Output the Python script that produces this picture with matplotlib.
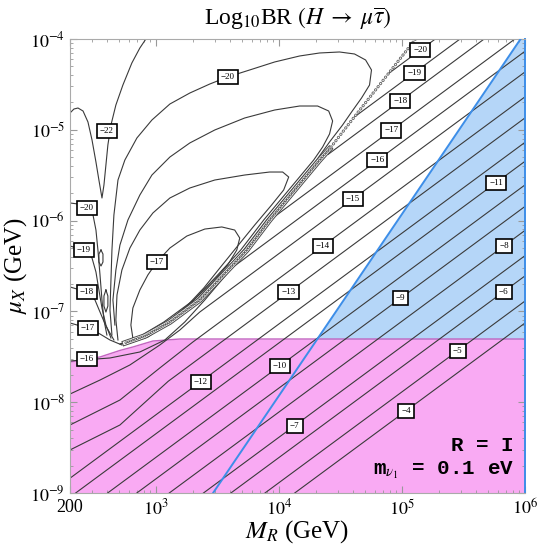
import numpy as np
import matplotlib.pyplot as plt

plt.rcParams['font.family'] = ['Liberation Serif', 'DejaVu Serif']
plt.rcParams['mathtext.fontset'] = 'stix'
plt.rcParams['lines.scale_dashes'] = False

# all positions below are (log10 M_R [GeV], log10 mu_X [GeV])

# straight contours in the lower right
straight_levels = [-4, -5, -6, -7, -8, -9, -10, -11, -12]
straight_start = [(4.128, -9), (3.886, -9), (3.609, -9), (3.386, -9), (3.108, -9),
                  (2.844, -9), (2.607, -9), (2.347, -9), (2.301, -8.837)]
straight_end = [(6, -7.128), (6, -6.886), (6, -6.609), (6, -6.386), (6, -6.108),
                (6, -5.844), (6, -5.607), (6, -5.347), (6, -5.138)]

# diagonals that bend at small M_R
line_m13 = [(6, -4.869), (3.1, -7.769), (2.707, -8.251), (2.301, -8.526)]
line_m14 = [(6, -4.637), (3.3, -7.337), (3.031, -7.623), (2.707, -7.976), (2.301, -8.251)]
line_m15 = [(6, -4.363), (3.356, -7.007), (3.194, -7.205), (3.031, -7.370), (2.788, -7.590),
            (2.545, -7.756), (2.301, -7.910)]
line_m16 = [(6, -4.135), (3.616, -6.522), (3.397, -6.874), (3.234, -7.117), (3.072, -7.315),
            (2.869, -7.447), (2.626, -7.513), (2.301, -7.546)]

# diagonals that run into the cancellation band
line_m17 = [(5.918, -4.0), (3.92, -6.0)]
line_m18 = [(5.668, -4.0), (4.40, -5.27)]
line_m19 = [(5.472, -4.0), (4.616, -4.856)]
line_m20 = [(5.271, -4.0), (4.891, -4.380)]

# cancellation band: sparse above, dense below
band_upper = [(5.110, -4.0), (5.085, -4.044), (4.574, -4.925), (4.411, -5.211)]
band_lower = [(4.411, -5.211), (4.330, -5.333), (4.127, -5.663), (3.924, -5.993), (3.738, -6.324),
              (3.356, -6.874), (3.113, -7.117), (2.910, -7.271), (2.747, -7.348)]

# closed loops left of the band
loop_m17 = [(2.812, -7.293), (2.796, -7.150), (2.812, -6.963), (2.869, -6.764), (2.934, -6.599),
            (3.007, -6.456), (3.113, -6.302), (3.251, -6.170), (3.397, -6.093), (3.535, -6.070),
            (3.640, -6.104), (3.681, -6.192), (3.657, -6.324), (3.583, -6.489), (3.454, -6.687),
            (3.291, -6.896), (3.113, -7.095), (2.950, -7.238), (2.853, -7.304), (2.812, -7.293)]
loop_m18 = [(2.691, -7.315), (2.674, -7.095), (2.683, -6.819), (2.723, -6.544), (2.788, -6.302),
            (2.869, -6.104), (2.975, -5.916), (3.113, -5.751), (3.275, -5.641), (3.478, -5.553),
            (3.721, -5.498), (3.924, -5.465), (4.030, -5.465), (4.079, -5.520), (4.038, -5.663),
            (3.940, -5.828), (3.803, -6.048), (3.657, -6.291), (3.519, -6.522), (3.389, -6.742),
            (3.251, -6.941), (3.097, -7.128), (2.934, -7.282), (2.788, -7.348)]
loop_m19 = [(2.666, -7.150), (2.650, -6.874), (2.674, -6.544), (2.707, -6.269), (2.772, -5.993),
            (2.869, -5.718), (2.967, -5.498), (3.113, -5.300), (3.275, -5.145), (3.478, -5.002),
            (3.721, -4.870), (3.965, -4.782), (4.168, -4.738), (4.314, -4.738), (4.404, -4.793),
            (4.436, -4.903), (4.411, -5.046), (4.355, -5.189), (4.282, -5.333), (4.079, -5.663),
            (3.876, -5.993), (3.689, -6.324), (3.494, -6.610), (3.308, -6.874), (3.064, -7.117),
            (2.861, -7.282), (2.707, -7.359)]
loop_m20 = [(2.642, -7.260), (2.626, -6.985), (2.634, -6.654), (2.642, -6.324), (2.658, -5.938),
            (2.691, -5.553), (2.747, -5.333), (2.845, -5.090), (2.967, -4.892), (3.113, -4.716),
            (3.275, -4.595), (3.437, -4.496), (3.583, -4.418), (3.762, -4.341), (3.965, -4.253),
            (4.168, -4.187), (4.330, -4.154), (4.492, -4.143), (4.614, -4.165), (4.704, -4.231),
            (4.752, -4.341), (4.736, -4.507), (4.671, -4.650), (4.590, -4.804), (4.517, -4.947),
            (4.411, -5.134), (4.306, -5.333), (4.103, -5.663), (3.900, -5.993), (3.713, -6.324),
            (3.519, -6.610), (3.332, -6.874), (3.088, -7.117), (2.885, -7.282), (2.715, -7.359)]

# arms reaching the left edge
arm_m17 = [(2.301, -7.128), (2.447, -7.183), (2.545, -7.249), (2.626, -7.315), (2.723, -7.370)]
arm_m18 = [(2.301, -6.731), (2.439, -6.786), (2.504, -6.874), (2.545, -7.007), (2.593, -7.161),
           (2.658, -7.315)]
arm_m19 = [(2.301, -6.280), (2.415, -6.324), (2.480, -6.412), (2.512, -6.566), (2.536, -6.764),
           (2.561, -6.963), (2.593, -7.150), (2.634, -7.293)]
arm_m20 = [(2.301, -5.806), (2.366, -5.817), (2.431, -5.861), (2.488, -5.938), (2.512, -6.104),
           (2.528, -6.324), (2.545, -6.599), (2.561, -6.874), (2.577, -7.095), (2.601, -7.260)]
line_m22 = [(2.301, -4.815), (2.333, -4.771), (2.366, -4.760), (2.407, -4.793), (2.447, -4.914),
            (2.480, -5.112), (2.512, -5.355), (2.536, -5.553), (2.561, -5.751), (2.577, -5.608),
            (2.593, -5.388), (2.609, -5.167), (2.634, -4.947), (2.674, -4.727), (2.731, -4.507),
            (2.804, -4.264), (2.869, -4.099), (2.918, -4.0)]
# tiny closed contours inside the vertical valley
islet_a = [(2.553, -6.324), (2.569, -6.368), (2.569, -6.456), (2.553, -6.500), (2.536, -6.456),
           (2.536, -6.368), (2.553, -6.324)]
islet_b = [(2.593, -6.764), (2.609, -6.830), (2.609, -6.941), (2.593, -7.007), (2.577, -6.941),
           (2.577, -6.830), (2.593, -6.764)]

contour_lines = [line_m13, line_m14, line_m15, line_m16, line_m17, line_m18, line_m19, line_m20,
                 loop_m17, loop_m18, loop_m19, loop_m20, arm_m17, arm_m18, arm_m19, arm_m20,
                 line_m22, islet_a, islet_b]

# contour labels
label_levels = [-20, -19, -18, -17, -16, -15, -14, -13, -12, -11, -10, -9, -8, -7, -6, -5, -4,
                -20, -22, -17, -20, -19, -18, -17, -16]
label_pos = [(5.148, -4.124), (5.101, -4.371), (4.985, -4.683), (4.912, -5.006), (4.799, -5.336),
             (4.601, -5.762), (4.357, -6.280), (4.079, -6.790), (3.364, -7.774), (5.764, -5.583),
             (4.006, -7.601), (4.988, -6.856), (5.832, -6.276), (4.127, -8.259), (5.826, -6.783),
             (5.453, -7.433), (5.034, -8.094), (3.583, -4.418), (2.601, -5.013), (3.007, -6.456),
             (2.439, -5.861), (2.415, -6.324), (2.439, -6.786), (2.447, -7.183), (2.439, -7.524)]

# excluded regions
blue_line = [(3.464, -9.0), (5.964, -4.0)]
magenta_edge = [(2.301, -7.557), (2.545, -7.502), (2.707, -7.43), (2.812, -7.392),
                (2.975, -7.326), (3.194, -7.304), (6.0, -7.304)]

line_col = '#3a3a3a'
blue_fill = '#b5d6f8'
blue_edge = '#3d8ee8'
mag_fill = '#f9aaf3'
mag_edge = '#c264c0'


def to_data(pts):
    arr = np.asarray(pts, dtype=float)
    return 10 ** arr[:, 0], 10 ** arr[:, 1]


fig = plt.figure(figsize=(5.4, 5.51), dpi=100)
ax = fig.add_axes([70 / 540, 1 - 493 / 551, 455 / 540, 454 / 551])
ax.set_xscale('log')
ax.set_yscale('log')

# blue region right of the blue line
bx, by = to_data(blue_line)
ax.fill([bx[0], bx[1], 1e6, 1e6], [by[0], by[1], 1e-4, 1e-9], color=blue_fill, lw=0, zorder=1)

# magenta region below the edge
mx, my = to_data(magenta_edge)
ax.fill_between(mx, 1e-9, my, color=mag_fill, lw=0, zorder=1.5)
ax.plot(mx, my, color=mag_edge, lw=1.0, zorder=1.6)

for s, e in zip(straight_start, straight_end):
    x, y = to_data([s, e])
    ax.plot(x, y, color=line_col, lw=0.8, zorder=2)

for pts in contour_lines:
    x, y = to_data(pts)
    ax.plot(x, y, color=line_col, lw=0.8, zorder=2, solid_joinstyle='round')

# band of tiny contours along the cancellation line
x, y = to_data(band_lower)
ax.plot(x, y, color='#4a4a4a', lw=4.0, zorder=2.1)
ax.plot(x, y, color='white', lw=2.6, zorder=2.2)
ax.plot(x, y, color='#555555', lw=1.8, ls=(0, (0.3, 1.5)), dash_capstyle='round', zorder=2.3)
ax.plot(x, y, color='white', lw=0.7, ls=(0, (0.3, 1.5)), dash_capstyle='round', zorder=2.4)
x, y = to_data(band_upper)
ax.plot(x, y, color='#666666', lw=2.2, ls=(0, (0.3, 2.6)), dash_capstyle='round', zorder=2.3)
ax.plot(x, y, color='white', lw=0.9, ls=(0, (0.3, 2.6)), dash_capstyle='round', zorder=2.4)

ax.plot(bx, by, color=blue_edge, lw=1.4, zorder=3)

for lev, p in zip(label_levels, label_pos):
    ax.text(10 ** p[0], 10 ** p[1], '\u2212%d' % abs(lev), fontsize=6.5, ha='center', va='center',
            zorder=5, bbox=dict(boxstyle='square,pad=0.35', fc='white', ec='black', lw=1.2))

ax.set_xlim(200, 1e6)
ax.set_ylim(1e-9, 1e-4)
ax.set_xticks([200, 1e3, 1e4, 1e5, 1e6])
ax.set_xticklabels(['200', '$10^{3}$', '$10^{4}$', '$10^{5}$', '$10^{6}$'])
ax.set_yticks([1e-9, 1e-8, 1e-7, 1e-6, 1e-5, 1e-4])
ax.set_yticklabels(['$10^{-9}$', '$10^{-8}$', '$10^{-7}$', '$10^{-6}$', '$10^{-5}$', '$10^{-4}$'])
ax.tick_params(which='both', direction='in', top=True, right=True, color='#999999', labelsize=13)
ax.tick_params(which='major', length=5, width=0.8)
ax.tick_params(which='minor', length=2.5, width=0.6)
ax.tick_params(axis='x', pad=4)
for sp in ax.spines.values():
    sp.set_color('#aaaaaa')
    sp.set_linewidth(0.8)
ax.spines['right'].set_color(blue_edge)
ax.spines['right'].set_linewidth(1.4)

ax.set_title(r'Log$_{10}$BR $(H\;\rightarrow\;\mu\overline{\tau})$', fontsize=17, pad=11)
ax.set_xlabel(r'$M_R$ (GeV)', fontsize=18, labelpad=0)
ax.set_ylabel(r'$\mu_X$ (GeV)', fontsize=18, labelpad=1)

ax.text(0.975, 0.104, 'R = I', transform=ax.transAxes, ha='right', va='center',
        family='Liberation Mono', weight='bold', fontsize=15, zorder=6)
ax.text(0.975, 0.050, r'm$_{\nu_1}$ = 0.1 eV', transform=ax.transAxes, ha='right', va='center',
        family='Liberation Mono', weight='bold', fontsize=15, zorder=6)

fig.savefig('out.png', dpi=100)
